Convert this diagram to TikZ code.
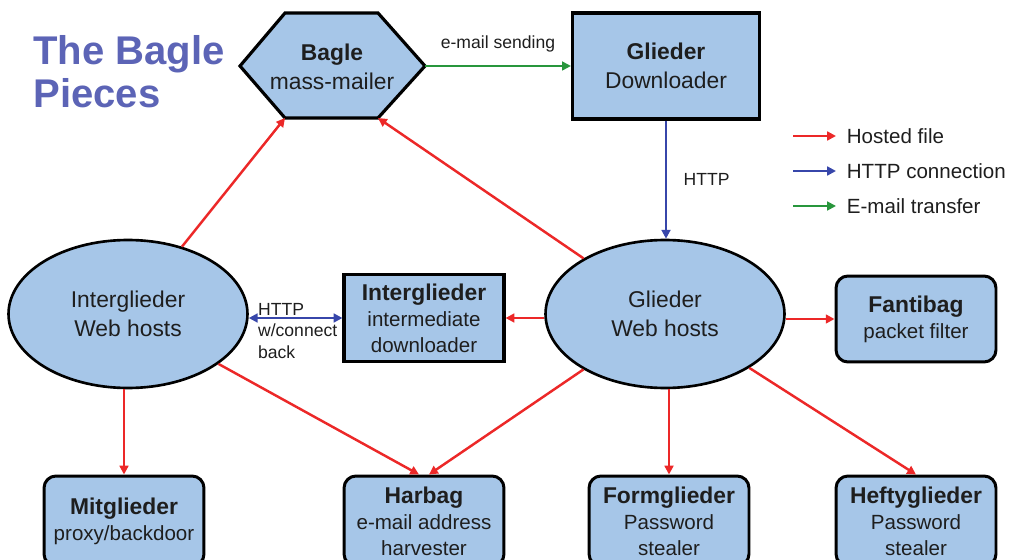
\documentclass[tikz,border=0pt]{standalone}
\usepackage{fontspec}
\setmainfont{Liberation Sans}
\usetikzlibrary{arrows.meta,shapes.geometric}

\definecolor{boxblue}{RGB}{166,198,232}
\definecolor{hostred}{RGB}{236,40,40}
\definecolor{httpblue}{RGB}{55,70,170}
\definecolor{mailgreen}{RGB}{40,150,60}
\definecolor{titleblue}{RGB}{92,100,182}
\definecolor{txt}{RGB}{30,30,30}

\newcommand{\pname}[1]{{\fontsize{13}{15}\selectfont\bfseries #1}}

\begin{document}
\begin{tikzpicture}[x=0.02cm,y=-0.02cm,
  tip/.style={-{Triangle[length=5pt,width=5pt]}},
  hosted/.style={tip,draw=hostred,line width=1.4pt},
  http/.style={tip,draw=httpblue,line width=1.4pt},
  mail/.style={tip,draw=mailgreen,line width=1.1pt},
  web/.style={ellipse,draw,fill=boxblue,line width=1.5pt,minimum width=4.78cm,minimum height=2.96cm,
    inner sep=0pt,align=center,text=txt,font=\fontsize{13}{16.5}\selectfont},
  dlbox/.style={rectangle,draw,fill=boxblue,line width=1.8pt,align=center,text=txt},
  piece/.style={rectangle,rounded corners=0.24cm,draw,fill=boxblue,line width=1.7pt,minimum width=3.2cm,
    minimum height=1.8cm,align=center,text=txt,font=\fontsize{11.7}{14.8}\selectfont},
  lbl/.style={text=txt,font=\fontsize{10}{12}\selectfont},
  legtxt/.style={anchor=west,inner xsep=6pt,text=txt,font=\fontsize{11.7}{14}\selectfont}]
\clip (0,0) rectangle (1010,560);

% title
\node[anchor=north west,inner sep=0pt,align=left,text=titleblue,font=\fontsize{22.8}{24.5}\selectfont\bfseries] (title) at (33,35) {The Bagle\\Pieces};

% mass-mailer hexagon
\coordinate (hexW) at (240,66);
\coordinate (hexNW) at (285,13);
\coordinate (hexNE) at (378,13);
\coordinate (hexE) at (425,66);
\coordinate (hexSE) at (378,118);
\coordinate (hexSW) at (285,118);
\draw[fill=boxblue,line width=1.8pt] (hexW) -- (hexNW) -- (hexNE) -- (hexE) -- (hexSE) -- (hexSW) -- cycle;
\node[align=center,text=txt,font=\fontsize{13}{16.5}\selectfont] (mailer) at (332,67) {\textbf{Bagle}\\mass-mailer};

\node[dlbox,minimum width=3.74cm,minimum height=2.12cm,font=\fontsize{13}{16.5}\selectfont] (gdl) at (666,66) {\textbf{Glieder}\\Downloader};

\node[web] (iweb) at (128,314) {Interglieder\\Web hosts};
\node[web] (gweb) at (665,314) {Glieder\\Web hosts};
\node[dlbox,minimum width=3.2cm,minimum height=1.74cm,font=\fontsize{11.7}{14.8}\selectfont] (idl) at (424,318) {\pname{Interglieder}\\intermediate\\downloader};
\node[piece,minimum height=1.72cm] (fanti) at (916,319) {\pname{Fantibag}\\packet filter};

\node[piece] (mit) at (124,521) {\pname{Mitglieder}\\proxy/backdoor};
\node[piece] (harbag) at (424,521) {\pname{Harbag}\\e-mail address\\harvester};
\node[piece] (form) at (669,521) {\pname{Formglieder}\\Password\\stealer};
\node[piece] (hefty) at (916,521) {\pname{Heftyglieder}\\Password\\stealer};

% connections
\draw[mail] (hexE) -- (gdl.west) node[midway,above=4pt,lbl] {e-mail sending};
\draw[http] (gdl.south) -- (gdl.south |- gweb.north) node[midway,right=6pt,lbl] {HTTP};
\draw[http,{Triangle[length=5pt,width=5pt]}-{Triangle[length=5pt,width=5pt]}] (idl.west -| iweb.east) -- (idl.west);
\node[lbl,anchor=west,align=left,inner sep=1pt] (connback) at (256,331) {HTTP\\w/connect\\back};

\draw[hosted] (iweb) -- (hexSW);
\draw[hosted] (gweb) -- (hexSE);
\draw[hosted] (gweb.west |- idl.east) -- (idl.east);
\draw[hosted] (gweb.east |- fanti.west) -- (fanti.west);
\draw[hosted] (iweb.south -| mit.north) -- (mit.north);
\draw[hosted] (iweb) -- ([xshift=-0.1cm]harbag.north);
\draw[hosted] (gweb) -- ([xshift=0.1cm]harbag.north);
\draw[hosted] (gweb.south -| form.north) -- (form.north);
\draw[hosted] (gweb) -- (hefty.north);

% legend
\node[legtxt] (legHosted) at (836,136) {Hosted file};
\node[legtxt] (legHttp) at (836,171) {HTTP connection};
\node[legtxt] (legMail) at (836,206) {E-mail transfer};
\coordinate (legHostedStart) at (793,136);
\coordinate (legHttpStart) at (793,171);
\coordinate (legMailStart) at (793,206);
\draw[hosted] (legHostedStart) -- (legHosted.west);
\draw[http] (legHttpStart) -- (legHttp.west);
\draw[mail] (legMailStart) -- (legMail.west);
\end{tikzpicture}
\end{document}
